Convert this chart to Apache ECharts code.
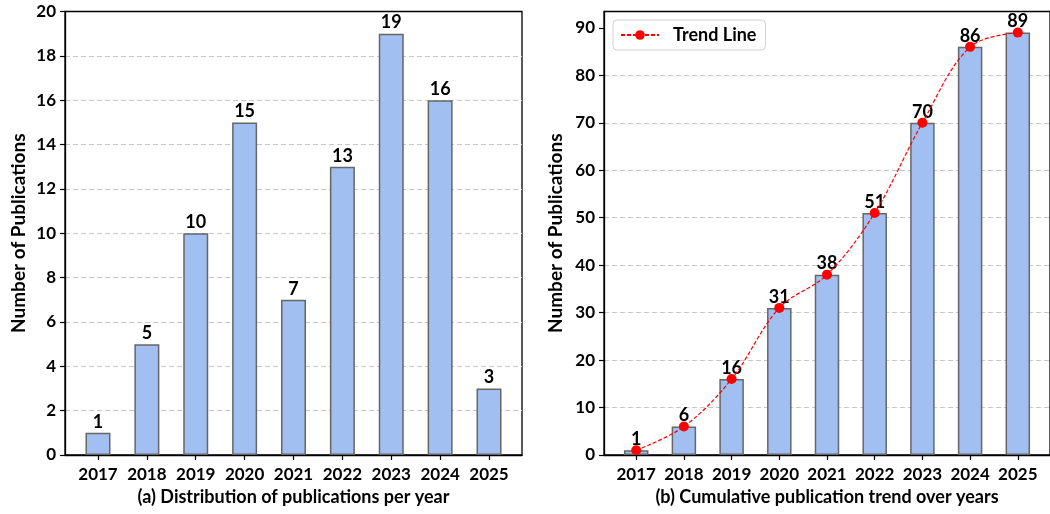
<!DOCTYPE html>
<html>
<head>
<meta charset="utf-8">
<script src="https://cdn.jsdelivr.net/npm/echarts@6/dist/echarts.min.js"></script>
<style>
html,body{margin:0;padding:0;background:#fff;}
#c{width:1050px;height:514px;}
</style>
</head>
<body>
<div id="c"></div>
<script>
const years = ['2017','2018','2019','2020','2021','2022','2023','2024','2025'];
const yearly = [1,5,10,15,7,13,19,16,3];
const cumulative = [1,6,16,31,38,51,70,86,89];
const leftTicks = [0,2,4,6,8,10,12,14,16,18,20];
const rightTicks = [0,10,20,30,40,50,60,70,80,90];

const FONT = 'Lato';
const idx = years.map((_, i) => i);
const barColor = '#a2bff2';
const edge = '#666666';

const chart = echarts.init(document.getElementById('c'), null, {renderer: 'canvas'});

function xAxisDef(gridIndex, name) {
  return {
    type: 'value', gridIndex: gridIndex, min: -0.675, max: 8.675,
    name: name, nameLocation: 'middle', nameGap: 32,
    nameTextStyle: {fontFamily: FONT, fontWeight: 'bold', fontSize: 18, color: '#000'},
    axisLine: {show: true, onZero: false, lineStyle: {color: '#000', width: 1.3}},
    axisTick: {show: true, length: 5, customValues: idx, lineStyle: {color: '#000', width: 1.2}},
    axisLabel: {customValues: idx, margin: 11, fontFamily: FONT, fontWeight: 'bold', fontSize: 17, color: '#000',
      formatter: v => years[Math.round(v)]},
    splitLine: {show: false}
  };
}
function yAxisDef(gridIndex, max, interval, ticks, gap) {
  return {
    type: 'value', gridIndex: gridIndex, min: 0, max: max, interval: interval,
    name: 'Number of Publications', nameLocation: 'middle', nameGap: gap,
    nameTextStyle: {fontFamily: FONT, fontWeight: 'bold', fontSize: 19, color: '#000'},
    axisLine: {show: true, onZero: false, lineStyle: {color: '#000', width: 1.3}},
    axisTick: {show: true, length: 5, customValues: ticks, lineStyle: {color: '#000', width: 1.2}},
    axisLabel: {customValues: ticks, margin: 9, fontFamily: FONT, fontWeight: 'bold', fontSize: 17, color: '#000'},
    splitLine: {show: true, showMinLine: false, showMaxLine: false, lineStyle: {color: '#c8c8c8', width: 1, type: [5, 3]}}
  };
}

const barLabel = {show: true, position: 'top', distance: 2, fontFamily: FONT, fontWeight: 'bold', fontSize: 18, color: '#000'};

chart.setOption({
  animation: false,
  backgroundColor: '#fff',
  grid: [
    {left: 65, right: 528, top: 11.5, bottom: 59, show: true, borderColor: '#000', borderWidth: 1.3, backgroundColor: 'transparent'},
    {left: 604, right: -8, top: 11.5, bottom: 59, show: true, borderColor: '#000', borderWidth: 1.3, backgroundColor: 'transparent'}
  ],
  xAxis: [
    xAxisDef(0, '(a) Distribution of publications per year'),
    xAxisDef(1, '(b) Cumulative publication trend over years')
  ],
  yAxis: [
    yAxisDef(0, 20, 2, leftTicks, 37),
    yAxisDef(1, 93.45, 10, rightTicks, 39)
  ],
  legend: {
    left: 613, top: 20, padding: [6, 9, 6, 7], itemWidth: 38, itemHeight: 12,
    borderColor: '#d0d0d0', borderWidth: 1, borderRadius: 4, backgroundColor: '#fff',
    textStyle: {fontFamily: FONT, fontWeight: 'bold', fontSize: 18, color: '#000', padding: [0, 0, 0, 9]},
    data: ['Trend Line']
  },
  series: [
    {
      type: 'bar', xAxisIndex: 0, yAxisIndex: 0, barWidth: 25,
      data: yearly.map((v, i) => [i, v]),
      itemStyle: {color: barColor, borderColor: edge, borderWidth: 1.5},
      label: barLabel
    },
    {
      type: 'bar', xAxisIndex: 1, yAxisIndex: 1, barWidth: 24.5,
      data: cumulative.map((v, i) => [i, v]),
      itemStyle: {color: barColor, borderColor: edge, borderWidth: 1.5},
      label: barLabel
    },
    {
      name: 'Trend Line', type: 'line', xAxisIndex: 1, yAxisIndex: 1, smooth: 0.35,
      data: cumulative.map((v, i) => [i, v]),
      symbol: 'circle', symbolSize: 10,
      itemStyle: {color: '#ff0000'},
      lineStyle: {color: '#ff0000', width: 1.2, type: [4, 2]},
      z: 5
    }
  ]
});
</script>
</body>
</html>
